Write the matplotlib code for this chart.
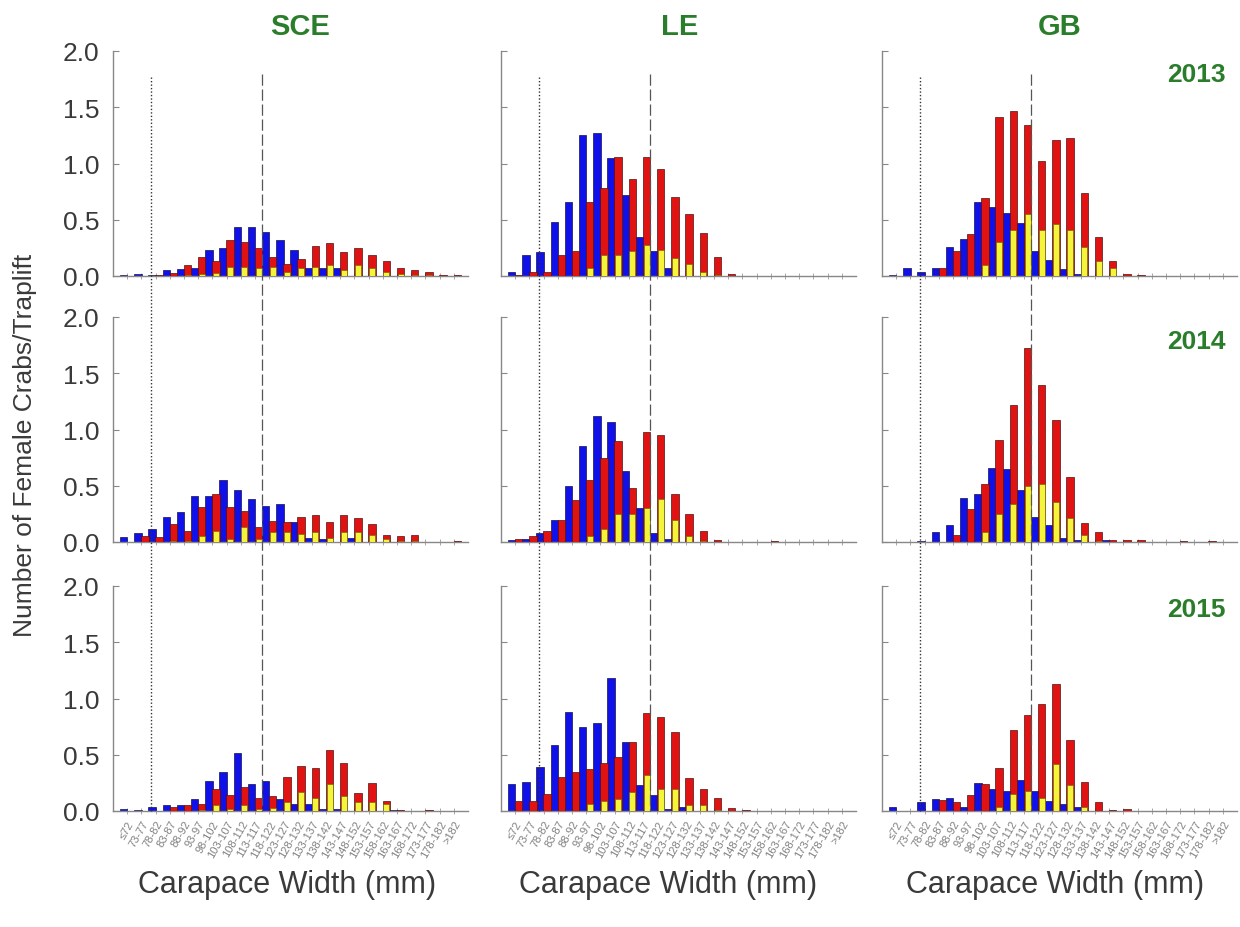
import matplotlib
matplotlib.use("Agg")
import matplotlib.pyplot as plt
import matplotlib.transforms as mtransforms
import numpy as np

plt.rcParams['font.family'] = ['Liberation Sans', 'DejaVu Sans']

# ---------------- data ----------------
size_bins = ["≤72", "73-77", "78-82", "83-87", "88-92", "93-97", "98-102", "103-107",
             "108-112", "113-117", "118-122", "123-127", "128-132", "133-137", "138-142",
             "143-147", "148-152", "153-157", "158-162", "163-167", "168-172", "173-177",
             "178-182", ">182"]
sites = ["SCE", "LE", "GB"]
years = ["2013", "2014", "2015"]

# blue / red / yellow series per site and year (crabs per traplift)
SCE_2013_blue = [0.01, 0.02, 0.005, 0.05, 0.065, 0.07, 0.23, 0.25, 0.44, 0.44, 0.39, 0.32, 0.23, 0.07, 0.07, 0.07, 0, 0, 0, 0, 0, 0, 0, 0]
SCE_2013_red = [0, 0, 0.01, 0.03, 0.10, 0.17, 0.13, 0.32, 0.30, 0.25, 0.17, 0.11, 0.15, 0.27, 0.29, 0.21, 0.25, 0.19, 0.13, 0.07, 0.05, 0.035, 0.005, 0.01]
SCE_2013_yellow = [0, 0, 0, 0, 0.01, 0.02, 0.03, 0.08, 0.08, 0.07, 0.08, 0.04, 0.07, 0.08, 0.10, 0.05, 0.10, 0.07, 0.04, 0.02, 0.01, 0.01, 0, 0]

LE_2013_blue = [0.04, 0.19, 0.21, 0.48, 0.66, 1.25, 1.27, 1.05, 0.72, 0.35, 0.22, 0.07, 0, 0, 0, 0, 0, 0, 0, 0, 0, 0, 0, 0]
LE_2013_red = [0.01, 0.04, 0.04, 0.19, 0.22, 0.66, 0.78, 1.06, 0.86, 1.06, 0.95, 0.70, 0.55, 0.38, 0.17, 0.02, 0, 0, 0, 0, 0, 0, 0, 0]
LE_2013_yellow = [0, 0, 0, 0, 0, 0.07, 0.19, 0.19, 0.22, 0.28, 0.23, 0.16, 0.11, 0.04, 0.01, 0, 0, 0, 0, 0, 0, 0, 0, 0]

GB_2013_blue = [0.01, 0.07, 0.04, 0.07, 0.26, 0.33, 0.66, 0.61, 0.56, 0.47, 0.22, 0.14, 0.06, 0.02, 0, 0, 0, 0, 0, 0, 0, 0, 0, 0]
GB_2013_red = [0, 0, 0, 0.07, 0.22, 0.37, 0.69, 1.41, 1.47, 1.34, 1.02, 1.21, 1.23, 0.74, 0.35, 0.13, 0.02, 0.01, 0, 0, 0, 0, 0, 0]
GB_2013_yellow = [0, 0, 0, 0, 0, 0, 0.10, 0.30, 0.41, 0.55, 0.41, 0.46, 0.41, 0.26, 0.13, 0.07, 0, 0, 0, 0, 0, 0, 0, 0]

SCE_2014_blue = [0.045, 0.08, 0.12, 0.22, 0.27, 0.41, 0.41, 0.55, 0.46, 0.38, 0.32, 0.34, 0.18, 0.04, 0.03, 0, 0.04, 0, 0, 0, 0, 0, 0, 0]
SCE_2014_red = [0, 0.05, 0.045, 0.16, 0.10, 0.31, 0.43, 0.31, 0.28, 0.13, 0.19, 0.18, 0.22, 0.24, 0.18, 0.24, 0.21, 0.16, 0.06, 0.05, 0.06, 0, 0, 0.01]
SCE_2014_yellow = [0, 0, 0, 0.01, 0.01, 0.05, 0.10, 0.03, 0.13, 0.03, 0.09, 0.09, 0.07, 0.09, 0.04, 0.09, 0.09, 0.06, 0.03, 0.01, 0.01, 0, 0, 0]

LE_2014_blue = [0.02, 0.03, 0.08, 0.20, 0.50, 0.85, 1.12, 1.07, 0.63, 0.30, 0.08, 0.03, 0, 0, 0, 0, 0, 0, 0, 0, 0, 0, 0, 0]
LE_2014_red = [0.03, 0.05, 0.10, 0.20, 0.37, 0.55, 0.75, 0.90, 0.48, 0.98, 0.95, 0.43, 0.25, 0.10, 0.02, 0, 0, 0, 0.01, 0, 0, 0, 0, 0]
LE_2014_yellow = [0, 0, 0, 0, 0, 0.05, 0.12, 0.25, 0.25, 0.30, 0.38, 0.20, 0.05, 0.01, 0, 0, 0, 0, 0, 0, 0, 0, 0, 0]

GB_2014_blue = [0, 0, 0.01, 0.09, 0.15, 0.39, 0.43, 0.66, 0.65, 0.46, 0.22, 0.15, 0.035, 0.015, 0, 0.02, 0, 0, 0, 0, 0, 0, 0, 0]
GB_2014_red = [0, 0, 0, 0, 0.06, 0.29, 0.52, 0.91, 1.22, 1.72, 1.40, 1.08, 0.58, 0.17, 0.09, 0.02, 0.02, 0.015, 0, 0, 0.01, 0, 0.01, 0]
GB_2014_yellow = [0, 0, 0, 0, 0, 0, 0.09, 0.25, 0.34, 0.50, 0.52, 0.36, 0.21, 0.06, 0.01, 0, 0, 0, 0, 0, 0, 0, 0, 0]

SCE_2015_blue = [0.02, 0.01, 0.035, 0.05, 0.05, 0.11, 0.27, 0.35, 0.52, 0.24, 0.27, 0.11, 0.06, 0.06, 0.015, 0.015, 0, 0, 0, 0.01, 0, 0, 0, 0]
SCE_2015_red = [0, 0, 0, 0.04, 0.05, 0.06, 0.20, 0.14, 0.21, 0.12, 0.13, 0.30, 0.40, 0.38, 0.54, 0.43, 0.16, 0.25, 0.09, 0.01, 0, 0.005, 0, 0]
SCE_2015_yellow = [0, 0, 0, 0, 0, 0.01, 0.05, 0.02, 0.05, 0.02, 0.03, 0.08, 0.17, 0.12, 0.24, 0.13, 0.08, 0.08, 0.065, 0, 0, 0, 0, 0]

LE_2015_blue = [0.24, 0.26, 0.39, 0.59, 0.88, 0.75, 0.78, 1.18, 0.61, 0.23, 0.14, 0.02, 0.035, 0, 0, 0, 0, 0, 0, 0, 0, 0, 0, 0]
LE_2015_red = [0.09, 0.09, 0.15, 0.30, 0.35, 0.37, 0.43, 0.48, 0.61, 0.87, 0.84, 0.70, 0.29, 0.20, 0.12, 0.025, 0.005, 0, 0, 0, 0, 0, 0, 0]
LE_2015_yellow = [0, 0, 0, 0, 0, 0.065, 0.085, 0.11, 0.17, 0.32, 0.20, 0.20, 0.05, 0.055, 0.01, 0, 0, 0, 0, 0, 0, 0, 0, 0]

GB_2015_blue = [0.035, 0, 0.08, 0.11, 0.115, 0.035, 0.25, 0.20, 0.18, 0.28, 0.18, 0.09, 0.065, 0.035, 0, 0, 0, 0, 0, 0, 0, 0, 0, 0]
GB_2015_red = [0, 0, 0, 0.10, 0.08, 0.145, 0.24, 0.38, 0.72, 0.85, 0.95, 1.13, 0.63, 0.26, 0.08, 0.01, 0.02, 0, 0, 0, 0, 0, 0, 0]
GB_2015_yellow = [0, 0, 0, 0, 0, 0, 0, 0.035, 0.15, 0.18, 0.115, 0.42, 0.23, 0.035, 0, 0, 0, 0, 0, 0, 0, 0, 0, 0]

data = {
    ("SCE", "2013"): (SCE_2013_blue, SCE_2013_red, SCE_2013_yellow),
    ("LE", "2013"): (LE_2013_blue, LE_2013_red, LE_2013_yellow),
    ("GB", "2013"): (GB_2013_blue, GB_2013_red, GB_2013_yellow),
    ("SCE", "2014"): (SCE_2014_blue, SCE_2014_red, SCE_2014_yellow),
    ("LE", "2014"): (LE_2014_blue, LE_2014_red, LE_2014_yellow),
    ("GB", "2014"): (GB_2014_blue, GB_2014_red, GB_2014_yellow),
    ("SCE", "2015"): (SCE_2015_blue, SCE_2015_red, SCE_2015_yellow),
    ("LE", "2015"): (LE_2015_blue, LE_2015_red, LE_2015_yellow),
    ("GB", "2015"): (GB_2015_blue, GB_2015_red, GB_2015_yellow),
}

dotted_pos = 1.65   # bin position of dotted reference line
dashed_pos = 9.5    # bin position of dashed reference line

# ---------------- styling ----------------
BLUE = "#1010e8"
RED = "#e01212"
YELLOW = "#f4f43a"
GREEN = "#2a7d2a"
GRAY = "#3a3a3a"

W, H = 1240, 928
fig = plt.figure(figsize=(W / 100, H / 100), dpi=100)

col_left = [113, 501, 882]
ax_w = 355
row_top = [52, 318, 587]
ax_h = 225

x = np.arange(len(size_bins))
axes = {}
for r, yr in enumerate(years):
    for c, site in enumerate(sites):
        ax = fig.add_axes([col_left[c] / W, 1 - (row_top[r] + ax_h) / H, ax_w / W, ax_h / H])
        axes[(r, c)] = ax
        blue, red, yellow = data[(site, yr)]
        ax.bar(x - 0.25, blue, width=0.52, color=BLUE, edgecolor="#101050", linewidth=0.5, zorder=2)
        ax.bar(x + 0.25, red, width=0.52, color=RED, edgecolor="#501010", linewidth=0.5, zorder=3)
        ax.bar(x + 0.25, yellow, width=0.42, color=YELLOW, edgecolor="#606010", linewidth=0.4, zorder=4)
        ax.set_xlim(-1, len(size_bins))
        ax.set_ylim(0, 2.0)
        ax.set_yticks([0, 0.5, 1.0, 1.5, 2.0])
        ax.set_xticks(x)
        for s in ["top", "right"]:
            ax.spines[s].set_visible(False)
        for s in ["left", "bottom"]:
            ax.spines[s].set_color("#888888")
            ax.spines[s].set_linewidth(1.0)
        ax.tick_params(axis="y", direction="in", length=4, color="#888888", labelsize=19,
                       labelcolor=GRAY, pad=10)
        ax.tick_params(axis="x", direction="inout", length=4, color="#999999", width=0.6)
        if c == 0:
            ax.set_yticklabels(["0.0", "0.5", "1.0", "1.5", "2.0"])
        else:
            ax.set_yticklabels([])
        if r == 2:
            ax.set_xticklabels(size_bins, rotation=60, ha="right", rotation_mode="anchor",
                               fontsize=8, color="#808080")
        else:
            ax.set_xticklabels([])

# reference lines spanning all rows
for c in range(3):
    ax = axes[(0, c)]
    trans = mtransforms.blended_transform_factory(ax.transData, fig.transFigure)
    fig.add_artist(plt.Line2D([dotted_pos, dotted_pos], [1 - 78 / H, 1 - 812 / H], transform=trans,
                              color="#333333", linestyle=(0, (1, 1.5)), linewidth=1.0, zorder=5))
    fig.add_artist(plt.Line2D([dashed_pos, dashed_pos], [1 - 75 / H, 1 - 812 / H], transform=trans,
                              color="#555555", linestyle=(0, (9, 3)), linewidth=0.9, zorder=5))

# titles
for c, (site, xc) in enumerate(zip(sites, [300, 680, 1060])):
    fig.text(xc / W, 1 - 27 / H, site, color=GREEN, fontsize=21, fontweight="bold",
             ha="center", va="center")
for r, (yr, yc) in enumerate(zip(years, [75, 342, 610])):
    fig.text(1196 / W, 1 - yc / H, yr, color=GREEN, fontsize=19, fontweight="bold",
             ha="center", va="center")

fig.text(25 / W, 1 - 445 / H, "Number of Female Crabs/Traplift", rotation=90, fontsize=19,
         color=GRAY, ha="center", va="center")
for xc in [287, 668, 1055]:
    fig.text(xc / W, 1 - 885 / H, "Carapace Width (mm)", fontsize=22, color=GRAY,
             ha="center", va="center")

fig.savefig("out.png", dpi=100)
